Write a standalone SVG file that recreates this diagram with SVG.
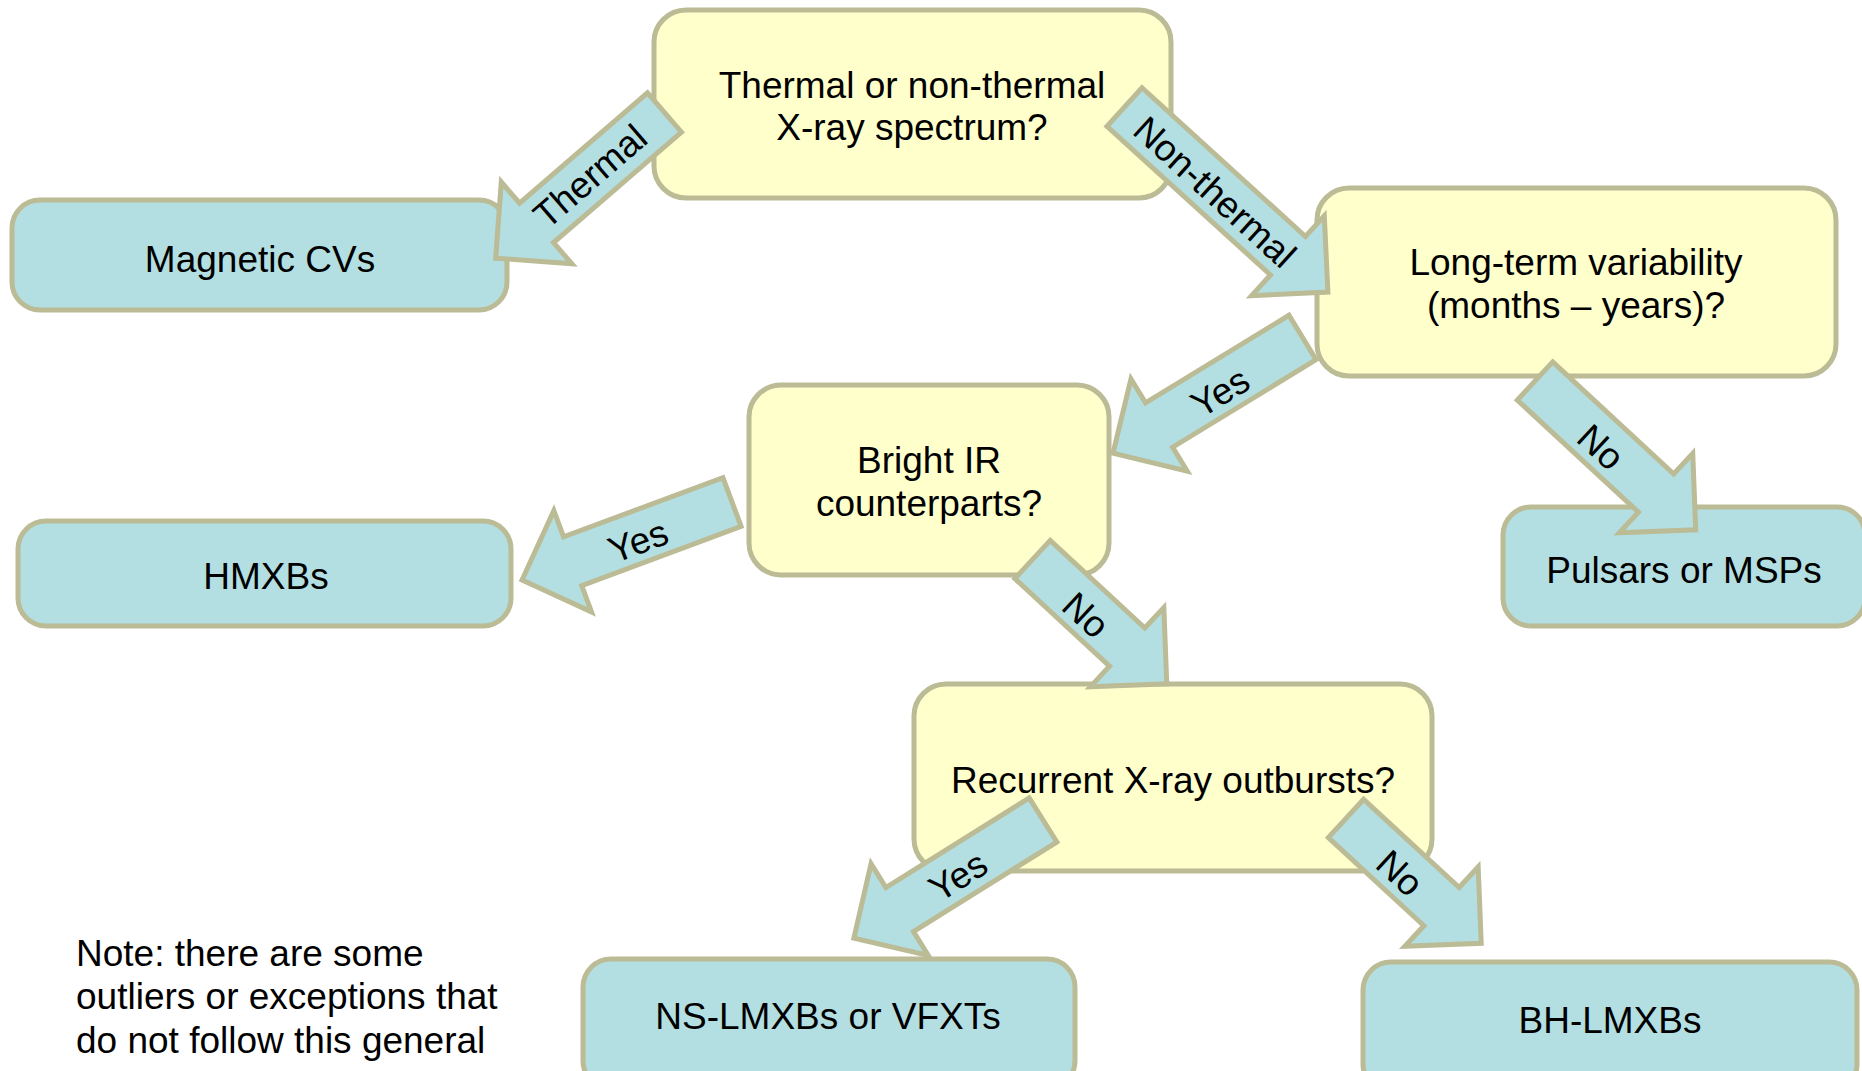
<svg xmlns="http://www.w3.org/2000/svg" width="1862" height="1071" viewBox="0 0 1862 1071">
<style>
.q{fill:#FFFFCC;stroke:#BBBB96;stroke-width:5}
.r{fill:#B3DFE2;stroke:#BBBB96;stroke-width:5}
.a{fill:#B3DFE2;stroke:#BBBB96;stroke-width:5;stroke-linejoin:miter}
text{font-family:"Liberation Sans",Arial,sans-serif;font-size:37px;fill:#000}
.c{text-anchor:middle}
</style>
<rect width="1862" height="1071" fill="#FFFFFF"/>
<g id="nodes">
<g id="n-spectrum"><rect class="q" x="654" y="10" width="517" height="188" rx="32"/><text class="c" x="912" y="98">Thermal or non-thermal</text><text class="c" x="912" y="140">X-ray spectrum?</text></g>
<g id="n-magcv"><rect class="r" x="12" y="200" width="495" height="110" rx="28"/><text class="c" x="260" y="272">Magnetic CVs</text></g>
<g id="n-longterm"><rect class="q" x="1317" y="188" width="519" height="188" rx="32"/><text class="c" x="1576" y="275">Long-term variability</text><text class="c" x="1576" y="318">(months – years)?</text></g>
<g id="n-brightir"><rect class="q" x="749" y="385" width="360" height="190" rx="32"/><text class="c" x="929" y="473">Bright IR</text><text class="c" x="929" y="516">counterparts?</text></g>
<g id="n-hmxb"><rect class="r" x="18" y="521" width="493" height="105" rx="28"/><text class="c" x="266" y="589">HMXBs</text></g>
<g id="n-pulsar"><rect class="r" x="1503" y="507" width="362" height="119" rx="28"/><text class="c" x="1684" y="583">Pulsars or MSPs</text></g>
<g id="n-recurrent"><rect class="q" x="914" y="684" width="518" height="187" rx="32"/><text class="c" x="1173" y="793">Recurrent X-ray outbursts?</text></g>
<g id="n-nslmxb"><rect class="r" x="583" y="959" width="492" height="130" rx="28"/><text class="c" x="828" y="1029">NS-LMXBs or VFXTs</text></g>
<g id="n-bhlmxb"><rect class="r" x="1363" y="962" width="494" height="130" rx="28"/><text class="c" x="1610" y="1033">BH-LMXBs</text></g>
<g id="note"><text x="76" y="966">Note: there are some</text><text x="76" y="1009">outliers or exceptions that</text><text x="76" y="1053">do not follow this general</text></g>
</g>
<g id="connectors">
<g id="e-thermal"><path class="a" transform="translate(664.5 112.5) rotate(139.2)" d="M0,-26 L169,-26 L169,-54 L223,0 L169,54 L169,26 L0,26 Z"/><text class="c" x="590" y="189" transform="rotate(-40.8 590 176)">Thermal</text></g>
<g id="e-nonthermal"><path class="a" transform="translate(1124.5 107) rotate(42.3)" d="M0,-26 L221,-26 L221,-54 L275,0 L221,54 L221,26 L0,26 Z"/><text class="c" x="1215" y="205" transform="rotate(42.3 1215 192)">Non-thermal</text></g>
<g id="e-lt-yes"><path class="a" transform="translate(1302.5 337.5) rotate(148.6)" d="M0,-26 L168,-26 L168,-54 L222,0 L168,54 L168,26 L0,26 Z"/><text class="c" x="1220" y="405" transform="rotate(-31.4 1220 392)">Yes</text></g>
<g id="e-lt-no"><path class="a" transform="translate(1535 381) rotate(42.8)" d="M0,-26 L165,-26 L165,-54 L219,0 L165,54 L165,26 L0,26 Z"/><text class="c" x="1601" y="460" transform="rotate(42.8 1601 447)">No</text></g>
<g id="e-ir-yes"><path class="a" transform="translate(732 502) rotate(159.6)" d="M0,-26 L170,-26 L170,-54 L224,0 L170,54 L170,26 L0,26 Z"/><text class="c" x="638" y="554" transform="rotate(-20.4 638 541)">Yes</text></g>
<g id="e-ir-no"><path class="a" transform="translate(1032.5 559.5) rotate(42.8)" d="M0,-26 L129,-26 L129,-54 L183,0 L129,54 L129,26 L0,26 Z"/><text class="c" x="1086" y="628" transform="rotate(42.8 1086 615)">No</text></g>
<g id="e-rec-yes"><path class="a" transform="translate(1043 820) rotate(148)" d="M0,-26 L169,-26 L169,-54 L223,0 L169,54 L169,26 L0,26 Z"/><text class="c" x="958" y="889" transform="rotate(-32 958 876)">Yes</text></g>
<g id="e-rec-no"><path class="a" transform="translate(1346 818.5) rotate(42.7)" d="M0,-26 L130,-26 L130,-54 L184,0 L130,54 L130,26 L0,26 Z"/><text class="c" x="1400" y="886" transform="rotate(42.7 1400 873)">No</text></g>
</g>
</svg>
